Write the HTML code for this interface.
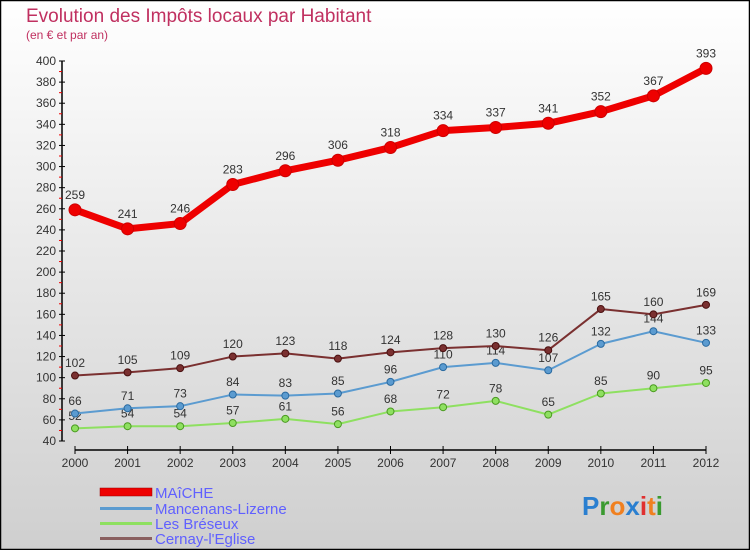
<!DOCTYPE html>
<html><head><meta charset="utf-8"><style>
html,body{margin:0;padding:0}
body{width:750px;height:550px;overflow:hidden;font-family:"Liberation Sans",sans-serif}
svg{display:block}
</style></head><body>
<svg id="chart" width="750" height="550" xmlns="http://www.w3.org/2000/svg">
<defs><linearGradient id="bg" x1="0" y1="0" x2="0" y2="1"><stop offset="0" stop-color="#ffffff"/><stop offset="1" stop-color="#cfcfcf"/></linearGradient></defs>
<rect x="0.5" y="0.5" width="749" height="549" fill="url(#bg)" stroke="#000" stroke-width="1.5"/>
<text x="26" y="22" font-size="19" fill="#c03060">Evolution des Impôts locaux par Habitant</text>
<text x="26" y="39" font-size="12" fill="#c03060">(en € et par an)</text>
<g id="axes"></g>
<g id="series"></g>
<g>
<rect x="100" y="488" width="52" height="8" fill="#e00" stroke="#900" stroke-width="0.5"/>
<text x="155" y="498" font-size="15" fill="#6060ff">MAîCHE</text>
<rect x="100" y="507" width="52" height="3" fill="#5b9bd0"/>
<text x="155" y="514" font-size="15" fill="#6060ff">Mancenans-Lizerne</text>
<rect x="100" y="522" width="52" height="3" fill="#8ee060"/>
<text x="155" y="529" font-size="15" fill="#6060ff">Les Bréseux</text>
<rect x="100" y="537" width="52" height="3" fill="#8a6060"/>
<text x="155" y="544" font-size="15" fill="#6060ff">Cernay-l'Eglise</text>
</g>
<text x="582" y="515" font-size="26" font-weight="bold"><tspan fill="#2a7fd0">P</tspan><tspan fill="#3a9a30">r</tspan><tspan fill="#f08020">o</tspan><tspan fill="#2a7fd0">x</tspan><tspan fill="#e03030">i</tspan><tspan fill="#f08020">t</tspan><tspan fill="#3a9a30">i</tspan></text>
</svg>
<script>
const years=["2000","2001","2002","2003","2004","2005","2006","2007","2008","2009","2010","2011","2012"];
const maiche=[259,241,246,283,296,306,318,334,337,341,352,367,393];
const mancenans=[66,71,73,84,83,85,96,110,114,107,132,144,133];
const breseux=[52,54,54,57,61,56,68,72,78,65,85,90,95];
const cernay=[102,105,109,120,123,118,124,128,130,126,165,160,169];
const yTicks=[40,60,80,100,120,140,160,180,200,220,240,260,280,300,320,340,360,380,400];
const NS="http://www.w3.org/2000/svg";
const X=i=>75+i*(706-75)/(years.length-1);
const Y=v=>441-(v-40)*(441-61)/360;
function mk(t,a,p){const e=document.createElementNS(NS,t);for(const k in a)e.setAttribute(k,a[k]);p.appendChild(e);return e;}
const ax=document.getElementById('axes');
mk('line',{x1:62,y1:61,x2:62,y2:441,stroke:'#000','stroke-width':1.5},ax);
mk('line',{x1:75,y1:450,x2:706,y2:450,stroke:'#000','stroke-width':1.5},ax);
yTicks.forEach((v,k)=>{
 mk('line',{x1:59,y1:Y(v),x2:65,y2:Y(v),stroke:'#000'},ax);
 if(k<yTicks.length-1) mk('line',{x1:59,y1:Y(v+10),x2:62,y2:Y(v+10),stroke:'#e00'},ax);
 const t=mk('text',{x:56,y:Y(v)+4,'font-size':12,fill:'#333','text-anchor':'end'},ax);t.textContent=v;
 
 
});
years.forEach((y,i)=>{
 mk('line',{x1:X(i),y1:446,x2:X(i),y2:454,stroke:'#000'},ax);
 const t=mk('text',{x:X(i),y:467,'font-size':12,fill:'#333','text-anchor':'middle'},ax);t.textContent=y;
 
 
});
const sg=document.getElementById('series');
function series(vals,name,color,dark,w,r,fs){
 const g=mk('g',{},sg);
 
 
 mk('polyline',{points:vals.map((v,i)=>X(i)+','+Y(v)).join(' '),fill:'none',stroke:color,'stroke-width':w,'stroke-linejoin':'round'},g);
 vals.forEach((v,i)=>{
  const c=mk('circle',{cx:X(i),cy:Y(v),r:r,fill:color,stroke:dark,'stroke-width':1},g);
  
  
  const t=mk('text',{x:X(i),y:Y(v)-(r+5),'font-size':fs,fill:'#333','text-anchor':'middle'},g);t.textContent=v;
  
  
 });
}
series(breseux,'les-breseux-series','#8ee060','#4a9a20',2,3.5,12);
series(mancenans,'mancenans-series','#5b9bd0','#2a6aa0',2,3.5,12);
series(cernay,'cernay-series','#7a3030','#4a1010',2,3.5,12);
series(maiche,'maiche-series','#ee0000','#cc0000',7,6,12);
</script>
</body></html>
